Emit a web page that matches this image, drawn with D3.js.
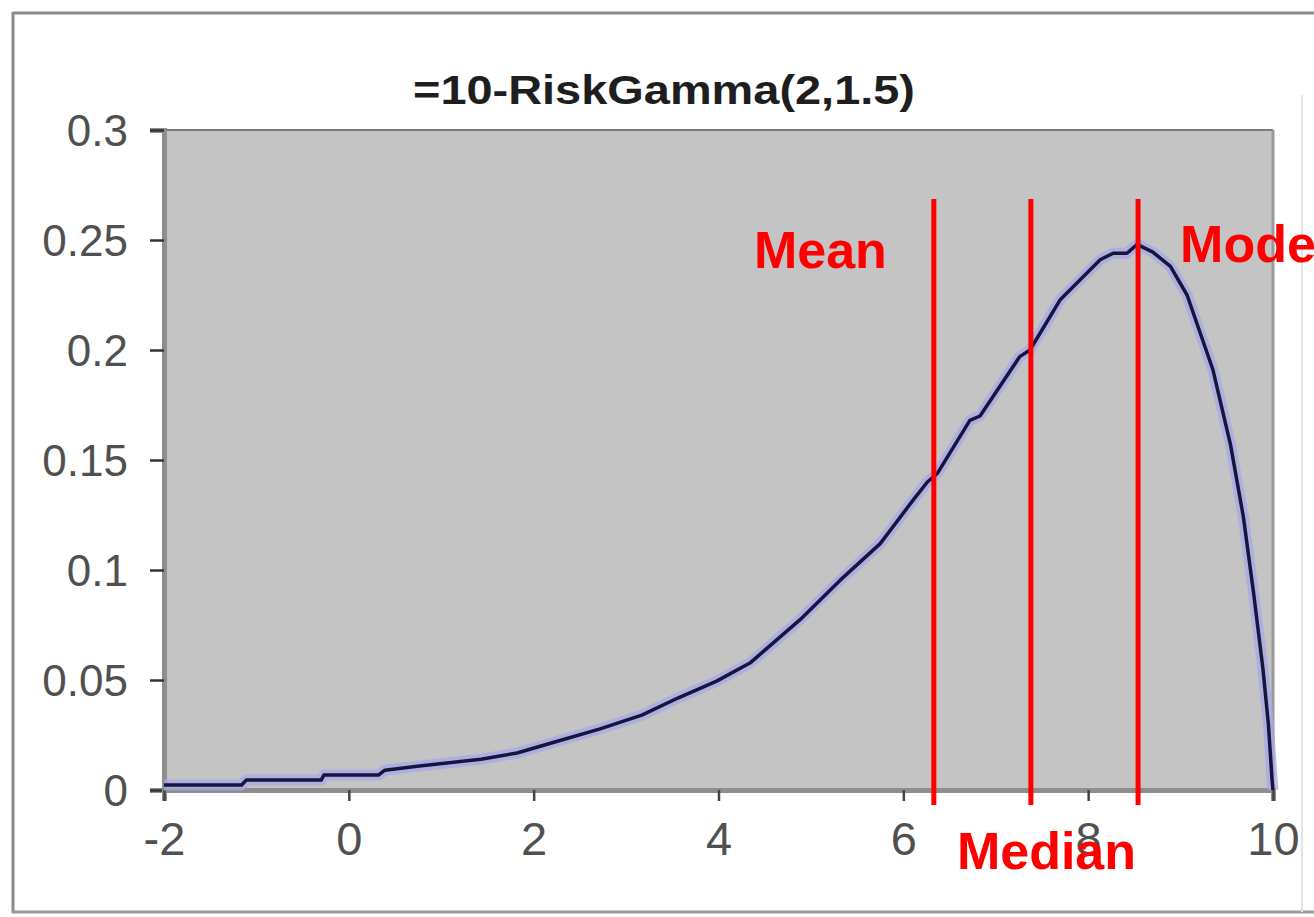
<!DOCTYPE html>
<html>
<head>
<meta charset="utf-8">
<script src="https://cdn.jsdelivr.net/npm/d3@7"></script>
<style>
  html, body { margin: 0; padding: 0; background: #ffffff; }
  svg { display: block; }
</style>
</head>
<body>
<svg id="chart" width="1314" height="917"></svg>
<script>
// ---- data ----
const title = "=10-RiskGamma(2,1.5)";
const xTicks = [-2, 0, 2, 4, 6, 8, 10];
const xTickLabels = ["-2", "0", "2", "4", "6", "8", "10"];
const yTicks = [0, 0.05, 0.1, 0.15, 0.2, 0.25, 0.3];
const yTickLabels = ["0", "0.05", "0.1", "0.15", "0.2", "0.25", "0.3"];
const curveX = [-2, -1.16, -1.11, -0.30, -0.27, 0.32, 0.39, 0.74, 1.43, 1.82, 2.21, 2.71, 3.17, 3.56, 3.98,
  4.34, 4.88, 5.32, 5.75, 6.11, 6.26, 6.37, 6.72, 6.83, 7.26, 7.37, 7.70, 8.13, 8.27, 8.42, 8.53,
  8.70, 8.89, 9.07, 9.35, 9.54, 9.68, 9.79, 9.89, 9.95, 9.99, 10];
const curveY = [0.0023, 0.0023, 0.0045, 0.0045, 0.0068, 0.0068, 0.009, 0.0108, 0.014, 0.0168, 0.0216, 0.0277, 0.034, 0.0418, 0.0495,
  0.0577, 0.0773, 0.0955, 0.112, 0.132, 0.140, 0.144, 0.168, 0.170, 0.197, 0.200, 0.223, 0.241, 0.244, 0.244, 0.248,
  0.2445, 0.238, 0.225, 0.191, 0.157, 0.124, 0.0895, 0.0555, 0.030, 0.0045, 0];
const markerNames = ["Mean", "Median", "Mode"];
const markerValues = [6.33, 7.38, 8.54];

// ---- layout ----
const svg = d3.select("#chart");
const W = 1314, H = 917;
const plot = { left: 164, right: 1273, top: 130, bottom: 790 };

const x = d3.scaleLinear().domain([-2, 10]).range([plot.left, plot.right]);
const y = d3.scaleLinear().domain([0, 0.3]).range([plot.bottom, plot.top]);

// outer chart frame
svg.append("rect").attr("x", 0).attr("y", 0).attr("width", W).attr("height", H).attr("fill", "#ffffff");
svg.append("line").attr("x1", 13).attr("x2", W).attr("y1", 13).attr("y2", 13)
  .attr("stroke", "#8a8a8a").attr("stroke-width", 3);
svg.append("line").attr("x1", 13).attr("x2", 13).attr("y1", 12).attr("y2", 913)
  .attr("stroke", "#8a8a8a").attr("stroke-width", 3);
svg.append("line").attr("x1", 12).attr("x2", W).attr("y1", 912).attr("y2", 912)
  .attr("stroke", "#9a9a9a").attr("stroke-width", 3);
svg.append("line").attr("x1", 1302).attr("x2", 1302).attr("y1", 95).attr("y2", 912)
  .attr("stroke", "#e4e4e4").attr("stroke-width", 2);

// plot area
svg.append("rect")
  .attr("x", plot.left).attr("y", plot.top)
  .attr("width", plot.right - plot.left).attr("height", plot.bottom - plot.top)
  .attr("fill", "#c4c4c4");
svg.append("line").attr("x1", plot.left).attr("x2", plot.right).attr("y1", plot.top).attr("y2", plot.top)
  .attr("stroke", "#7a7a7a").attr("stroke-width", 2);
svg.append("line").attr("x1", plot.right).attr("x2", plot.right).attr("y1", plot.top).attr("y2", plot.bottom)
  .attr("stroke", "#9a9a9a").attr("stroke-width", 3);

// title
svg.append("text")
  .attr("x", 664).attr("y", 104)
  .attr("text-anchor", "middle")
  .attr("font-family", "Liberation Sans, Arial, sans-serif")
  .attr("font-weight", "bold")
  .attr("font-size", 41)
  .attr("textLength", 502)
  .attr("lengthAdjust", "spacingAndGlyphs")
  .attr("fill", "#1e1e1e")
  .text(title);

// y axis
const yAxis = d3.axisLeft(y).tickValues(yTicks)
  .tickFormat((d, i) => yTickLabels[i]).tickSize(14).tickPadding(22);
const gy = svg.append("g").attr("transform", `translate(${plot.left},0)`).call(yAxis);
gy.select(".domain").attr("stroke", "#8e8e8e").attr("stroke-width", 5);
gy.selectAll(".tick line").attr("stroke", "#333").attr("stroke-width", 2.5);
gy.selectAll(".tick text")
  .attr("font-family", "Liberation Sans, Arial, sans-serif")
  .attr("font-size", 44)
  .attr("fill", "#505050")
  .attr("dy", "0.36em");

// x axis
const xAxis = d3.axisBottom(x).tickValues(xTicks)
  .tickFormat((d, i) => xTickLabels[i]).tickSize(11).tickPadding(28);
const gx = svg.append("g").attr("transform", `translate(0,${plot.bottom})`).call(xAxis);
gx.select(".domain").attr("stroke", "#8e8e8e").attr("stroke-width", 5);
gx.selectAll(".tick line").attr("stroke", "#444").attr("stroke-width", 2.5);
gx.selectAll(".tick text")
  .attr("font-family", "Liberation Sans, Arial, sans-serif")
  .attr("font-size", 47)
  .attr("fill", "#505050")
  .attr("dy", "0.55em");

// curve
const pts = curveX.map((v, i) => [v, curveY[i]]);
const line = d3.line().x(d => x(d[0])).y(d => y(d[1]));
svg.append("path").datum(pts).attr("d", line)
  .attr("fill", "none").attr("stroke", "#a8a8e8").attr("stroke-width", 11)
  .attr("stroke-opacity", 0.75).attr("stroke-linejoin", "round");
svg.append("path").datum(pts).attr("d", line)
  .attr("fill", "none").attr("stroke", "#15153e").attr("stroke-width", 3.5)
  .attr("stroke-linejoin", "round");

// marker lines
svg.selectAll("line.marker").data(markerValues).enter().append("line")
  .attr("class", "marker")
  .attr("x1", d => x(d)).attr("x2", d => x(d))
  .attr("y1", 199).attr("y2", 805)
  .attr("stroke", "#ff0000").attr("stroke-width", 5);

// marker labels
const labels = [
  { name: markerNames[0], x: x(markerValues[0]) - 47, y: 268, anchor: "end" },
  { name: markerNames[1], x: x(markerValues[2]) - 2, y: 869, anchor: "end" },
  { name: markerNames[2], x: x(markerValues[2]) + 42, y: 262, anchor: "start" }
];
svg.selectAll("text.mlabel").data(labels).enter().append("text")
  .attr("class", "mlabel")
  .attr("x", d => d.x).attr("y", d => d.y)
  .attr("text-anchor", d => d.anchor)
  .attr("font-family", "Liberation Sans, Arial, sans-serif")
  .attr("font-weight", "bold")
  .attr("font-size", 52)
  .attr("fill", "#ff0000")
  .text(d => d.name);
</script>
</body>
</html>
